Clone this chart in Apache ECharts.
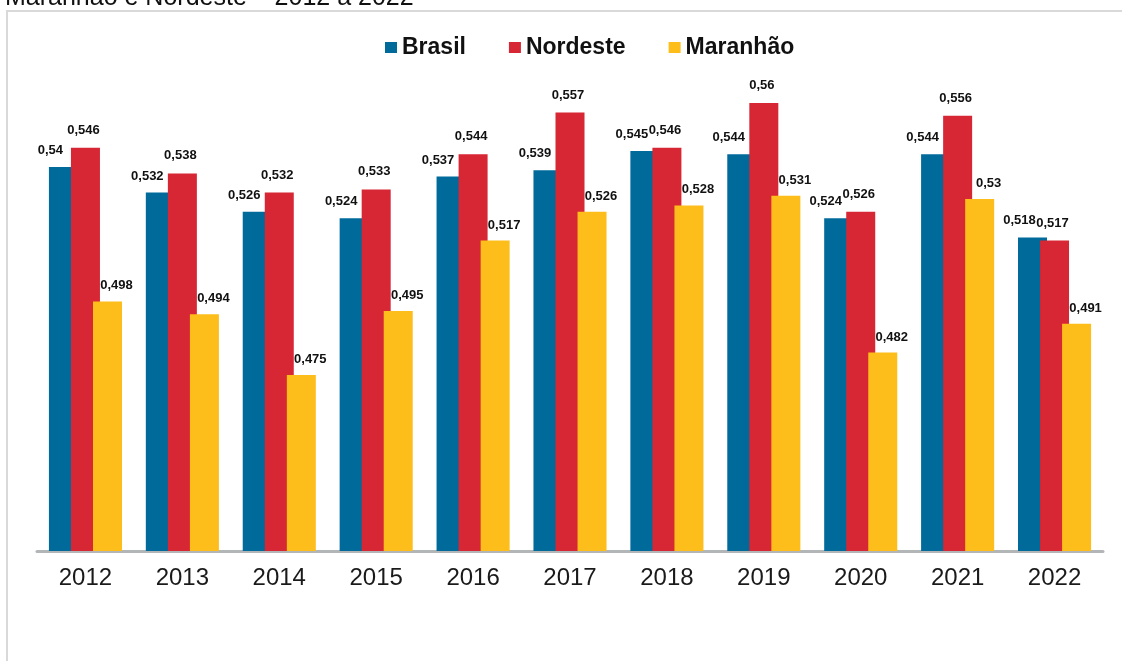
<!DOCTYPE html>
<html>
<head>
<meta charset="utf-8">
<script src="https://cdn.jsdelivr.net/npm/echarts@6/dist/echarts.min.js"></script>
<style>
  html, body { margin: 0; padding: 0; background: #fff; }
  #main { width: 1122px; height: 661px; }
</style>
</head>
<body>
<div id="main"></div>
<script>
var anos = ['2012', '2013', '2014', '2015', '2016', '2017', '2018', '2019', '2020', '2021', '2022'];
var brasil = [0.54, 0.532, 0.526, 0.524, 0.537, 0.539, 0.545, 0.544, 0.524, 0.544, 0.518];
var nordeste = [0.546, 0.538, 0.532, 0.533, 0.544, 0.557, 0.546, 0.56, 0.526, 0.556, 0.517];
var maranhao = [0.498, 0.494, 0.475, 0.495, 0.517, 0.526, 0.528, 0.531, 0.482, 0.53, 0.491];

var fonte = 'Liberation Sans, Arial, sans-serif';

// rótulo com vírgula decimal
function rotulo(p) {
    return String(p.value).replace('.', ',');
}

function serie(nome, dados, cor, desloc) {
    return {
        name: nome,
        type: 'bar',
        data: dados,
        barWidth: 29,
        barGap: '-24%',
        itemStyle: { color: cor },
        label: {
            show: true,
            position: 'top',
            distance: 5,
            offset: desloc,
            formatter: rotulo,
            fontFamily: fonte,
            fontSize: 13,
            fontWeight: 'bold',
            color: '#111'
        }
    };
}

var myChart = echarts.init(document.getElementById('main'));
var option = {
    animation: false,
    title: {
        text: 'Maranhão e Nordeste – 2012 a 2022',
        left: 0,
        top: -19,
        textStyle: {
            fontFamily: fonte,
            fontSize: 25,
            fontWeight: 'normal',
            color: '#111'
        }
    },
    graphic: [{
        type: 'rect',
        z: -1,
        shape: { x: 7, y: 11, width: 1300, height: 900 },
        style: { fill: 'transparent', stroke: '#d9d9d9', lineWidth: 2 }
    }],
    legend: {
        left: 380,
        top: 31,
        icon: 'rect',
        itemWidth: 12,
        itemHeight: 11,
        itemGap: 43,
        textStyle: {
            fontFamily: fonte,
            fontSize: 23,
            fontWeight: 'bold',
            color: '#111'
        },
        data: ['Brasil', 'Nordeste', 'Maranhão']
    },
    grid: {
        left: 37,
        right: 19,
        top: 39,
        bottom: 110
    },
    xAxis: {
        type: 'category',
        data: anos,
        axisTick: { show: false },
        axisLine: { lineStyle: { color: '#b3b6b6', width: 3 } },
        axisLabel: {
            fontFamily: fonte,
            fontSize: 24,
            color: '#1a1a1a',
            margin: 15
        }
    },
    yAxis: {
        type: 'value',
        min: 0.42,
        max: 0.58,
        show: false,
        splitLine: { show: false }
    },
    series: [
        serie('Brasil', brasil, '#006a9b', [-13, -5]),
        serie('Nordeste', nordeste, '#d72634', [-2, -6]),
        serie('Maranhão', maranhao, '#fdbe1b', [9, -4])
    ]
};
myChart.setOption(option);
</script>
</body>
</html>
